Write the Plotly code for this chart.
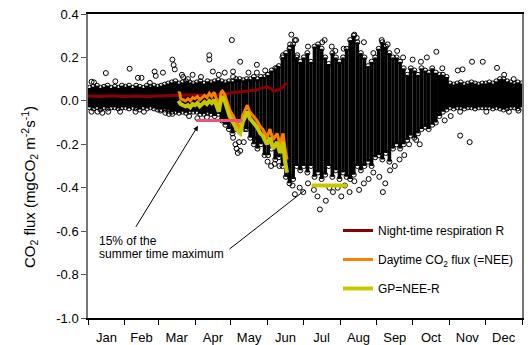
import plotly.graph_objects as go

# ---------------- data (day of year, CO2 flux mgCO2 m-2 s-1) ----------------
months = ["Jan", "Feb", "Mar", "Apr", "May", "Jun", "Jul", "Aug", "Sep", "Oct", "Nov", "Dec"]
month_start = [0, 31, 59, 90, 120, 151, 181, 212, 243, 273, 304, 334, 365]

# dense half-hourly flux cloud, summarised per 3-day bin: upper / lower edge of the dense core
cloud_hi = [.06, .065, .07, .06, .065, .07, .06, .065, .06, .07,
            .065, .07, .06, .07, .065, .06, .07, .065, .07, .065,
            .07, .075, .08, .085, .09, .08, .085, .09, .085, .08,
            .085, .09, .08, .09, .085, .09, .095, .09, .085, .09,
            .09, .1, .1, .095, .1, .1, .11, .1, .11, .11,
            .12, .14, .15, .16, .2, .22, .24, .26, .2, .18, .2, .22, .18, .25, .26, .24, .2, .17, .22, .2,
            .18, .2, .24, .28, .3, .27, .22, .2, .16, .18, .2, .24, .27, .25, .22, .2, .2, .18, .15, .12, .15,
            .14, .12, .15, .14, .13, .15, .13, .12, .12, .11,
            .08, .075, .08, .085, .075, .08, .085, .08, .075, .08,
            .08, .085, .08, .09, .1, .1, .09, .085, .08, .085, .08]
cloud_lo = [-.03, -.035, -.03, -.04, -.03, -.035, -.03, -.03, -.035, -.03,
            -.03, -.035, -.03, -.035, -.04, -.03, -.035, -.03, -.035, -.04,
            -.04, -.04, -.045, -.05, -.05, -.055, -.05, -.055, -.05, -.05,
            -.05, -.06, -.06, -.055, -.06, -.07, -.06, -.09, -.11, -.13,
            -.15, -.13, -.1, -.11, -.13, -.17, -.2, -.22, -.2, -.25,
            -.25, -.22, -.27, -.26, -.3, -.35, -.38, -.36, -.3, -.32, -.3, -.33, -.3, -.35, -.33, -.36, -.34, -.3, -.35, -.32,
            -.36, -.33, -.35, -.36, -.34, -.3, -.32, -.3, -.28, -.3, -.26, -.25, -.27, -.24, -.28, -.22, -.2, -.22, -.2, -.18, -.16,
            -.17, -.15, -.13, -.12, -.13, -.11, -.1, -.07, -.05, -.04,
            -.03, -.035, -.03, -.03, -.035, -.03, -.03, -.035, -.03, -.03,
            -.03, -.03, -.035, -.03, -.035, -.04, -.035, -.03, -.03, -.035, -.03]
cloud_day = [1.5 + 3 * i for i in range(len(cloud_hi))]

# scattered individual points outside the dense core
out_day = [3, 5, 15, 23, 35, 42, 45, 52, 56, 57, 63, 71, 72, 73, 79,
           3, 8, 12, 17, 27, 40, 47, 61, 65, 68, 71,
           80, 84, 88, 95, 102, 102, 105, 110, 115, 121, 122, 122, 128, 135, 142, 142, 149, 151, 159, 159, 164, 170, 170, 174, 176, 171,
           85, 92, 100, 122, 124, 125, 126, 128, 127, 130, 132, 131, 143, 146, 151, 154, 157, 161, 170, 172, 174,
           178, 181, 185, 190, 193, 195, 200, 203, 206, 210, 213, 216, 220, 224, 228, 232, 236, 240, 245, 248, 250, 254, 258, 262, 266, 270,
           175, 185, 197, 199, 205, 208, 215, 224, 226, 232, 240, 247, 252, 260, 265,
           273, 280, 285, 293, 298, 311, 315, 323, 332, 344, 350, 358, 313, 321, 300, 305, 313, 335, 354, 362, 276, 279]
out_val = [.088, .085, .128, .09, .148, .106, .106, .083, .135, .115, .13, .19, .165, .145, .12,
           -.05, -.05, -.055, -.05, -.05, -.05, -.05, -.045, -.055, -.06, -.06,
           .11, .1, .12, .11, .21, .19, .135, .12, .13, .28, .135, .11, .18, .13, .166, .13, .14, .12, .15, .135, .21, .26, .245, .28, .21, .305,
           -.07, -.08, -.075, -.17, -.2, -.22, -.24, -.23, -.19, -.12, -.13, -.19, -.17, -.18, -.28, -.3, -.29, -.3, -.35, -.39, -.43,
           -.4, -.42, -.38, -.41, -.44, -.5, -.46, -.4, -.42, -.4, -.44, -.39, -.42, -.37, -.41, -.38, -.36, -.33, -.35, -.42, -.38, -.32, -.3, -.27, -.25, -.2,
           .28, .25, .27, .28, .25, .23, .24, .305, .29, .27, .22, .28, .26, .23, .2,
           .19, .18, .2, .226, .15, .14, .145, .18, .18, .152, .12, .1, -.16, -.19, -.09, -.07, -.05, -.05, -.05, -.045, -.18, -.2]

# night-time respiration R
r_day = [0, 10, 20, 30, 40, 50, 60, 70, 80, 90, 100, 110, 115, 121, 130, 138, 142, 146, 151, 154, 156, 160, 164, 167]
r_val = [.022, .02, .023, .02, .022, .02, .022, .025, .025, .028, .025, .028, .03, .037, .042, .045, .05, .06, .065, .055,
         .045, .05, .065, .083]

# daytime CO2 flux (NEE)
nee_day = [76, 77, 78, 80, 82, 84, 86, 88, 90, 92, 94, 96, 98, 100, 102, 104, 106, 108, 110, 112, 113, 115, 117, 119,
           122, 126, 128, 130, 134, 136, 139, 142, 145, 147, 150.5, 153, 155.6, 159, 161.5, 164, 165.7, 167.4]
nee_val = [.035, .04, .01, .005, 0, .01, 0, .015, .01, .02, .005, .015, .025, .015, .035, .02, .04, .01, -.02, .04, .045,
           .03, -.01, -.04, -.07, -.11, -.13, -.07, -.02, -.05, -.07, -.09, -.12, -.13, -.17, -.13, -.18, -.15, -.2, -.15,
           -.22, -.27]

# gross production GP = NEE - R
gp_day = [76, 78, 80, 82, 84, 86, 88, 90, 92, 94, 96, 98, 100, 102, 104, 106, 108, 110, 112, 113, 115, 117, 119,
          122, 126, 128, 130, 134, 136, 139, 142, 145, 147, 150.5, 153, 155.6, 159, 161.5, 164, 165.7, 167.4]
gp_val = [0, -.015, -.02, -.025, -.02, -.03, -.015, -.02, -.01, -.025, -.015, -.005, -.015, 0, -.01, .005, -.02, -.05,
          .01, .02, 0, -.04, -.07, -.1, -.14, -.15, -.1, -.05, -.08, -.1, -.12, -.15, -.16, -.2, -.17, -.22, -.19, -.24,
          -.19, -.28, -.33]

# 15 % of summer-time maximum (spring) and summer-time maximum GP level
thr15_day = [91, 130]
thr15_val = [-.09, -.09]
gpmax_day = [188, 218]
gpmax_val = [-.39, -.39]

yticks = [0.4, 0.2, 0.0, -0.2, -0.4, -0.6, -0.8, -1.0]
ytick_text = ["0.4", "0.2", "0.0", "-0.2", "-0.4", "-0.6", "-0.8", "-1.0"]

# ---------------- figure ----------------
FONT = "Liberation Sans, Arial, sans-serif"
fig = go.Figure()

# dense core: narrow (winter) bins drawn as a solid band, wide (summer) bins as stripes
for narrow, width in ((True, 4.6), (False, 3.6)):
    seg_x, seg_y = [], []
    for d, lo, hi in zip(cloud_day, cloud_lo, cloud_hi):
        if (hi - lo < 0.2) == narrow:
            seg_x += [d, d, None]
            seg_y += [lo, hi, None]
    fig.add_trace(go.Scatter(x=seg_x, y=seg_y, mode="lines", line=dict(color="black", width=width),
                             showlegend=False, hoverinfo="skip"))
fig.add_trace(go.Scatter(x=cloud_day + cloud_day + out_day, y=cloud_hi + cloud_lo + out_val, mode="markers",
                         marker=dict(symbol="circle-open", size=5, color="black", line=dict(width=1)),
                         showlegend=False, hoverinfo="skip"))

fig.add_trace(go.Scatter(x=r_day, y=r_val, mode="lines", line=dict(color="#8B0000", width=3),
                         name="Night-time respiration R", legendgroup="a"))
fig.add_trace(go.Scatter(x=nee_day, y=nee_val, mode="lines", line=dict(color="#FF8000", width=3),
                         name="Daytime CO<sub>2</sub> flux (=NEE)", legendgroup="b"))
fig.add_trace(go.Scatter(x=gp_day, y=gp_val, mode="lines", line=dict(color="#C8C800", width=4),
                         name="GP=NEE-R", legendgroup="c"))
fig.add_trace(go.Scatter(x=thr15_day, y=thr15_val, mode="lines", line=dict(color="#F0507A", width=3),
                         showlegend=False))
fig.add_trace(go.Scatter(x=gpmax_day, y=gpmax_val, mode="lines", line=dict(color="#C8C800", width=4),
                         showlegend=False))

mid = [(a + b) / 2 for a, b in zip(month_start[:-1], month_start[1:])]

fig.update_layout(
    width=532, height=345,
    margin=dict(l=88, r=10, t=14, b=27),
    paper_bgcolor="white", plot_bgcolor="white",
    font=dict(family=FONT, size=13, color="black"),
    showlegend=True,
    legend=dict(x=(338 - 88) / 434, y=1 - (216 - 14) / 304, xanchor="left", yanchor="top",
                font=dict(size=12), tracegroupgap=10, bgcolor="rgba(0,0,0,0)"),
    xaxis=dict(range=[0, 365], tickmode="array", tickvals=mid, ticktext=months, automargin=False,
               ticks="outside", ticklen=7, tickcolor="rgba(0,0,0,0)",
               minor=dict(tickmode="array", tickvals=month_start, ticks="outside", ticklen=5,
                          tickcolor="black", tickwidth=1, showgrid=False),
               showgrid=False, zeroline=False, showline=True, mirror=True,
               linecolor="black", linewidth=1.5),
    yaxis=dict(range=[-1.0, 0.4], tickmode="array", tickvals=yticks, ticktext=ytick_text, automargin=False,
               ticks="outside", ticklen=5, tickcolor="#555",
               showgrid=False, zeroline=False, showline=True, mirror=True,
               linecolor="#777", linewidth=1.5),
    annotations=[
        dict(text="CO<sub>2</sub> flux (mgCO<sub>2</sub> m<sup>-2</sup>s<sup>-1</sup>)",
             xref="paper", yref="paper", x=(29 - 88) / 434, y=1 - (187 - 14) / 304,
             textangle=-90, showarrow=False, font=dict(size=15), xanchor="center", yanchor="middle"),
        dict(text="15% of the", xref="paper", yref="paper", x=(97 - 88) / 434, y=1 - (240.5 - 14) / 304,
             showarrow=False, xanchor="left", yanchor="middle", font=dict(size=12)),
        dict(text="summer time maximum", xref="paper", yref="paper", x=(97 - 88) / 434, y=1 - (253.5 - 14) / 304,
             showarrow=False, xanchor="left", yanchor="middle", font=dict(size=12)),
        dict(x=92.5, y=-0.115, ax=39.5, ay=-0.587, xref="x", yref="y", axref="x", ayref="y",
             text="", showarrow=True, arrowhead=2, arrowsize=1, arrowwidth=1, arrowcolor="black"),
        dict(x=182.5, y=-0.411, ax=117.7, ay=-0.688, xref="x", yref="y", axref="x", ayref="y",
             text="", showarrow=True, arrowhead=0, arrowwidth=1, arrowcolor="black"),
    ],
)

fig.write_html("out.html")
